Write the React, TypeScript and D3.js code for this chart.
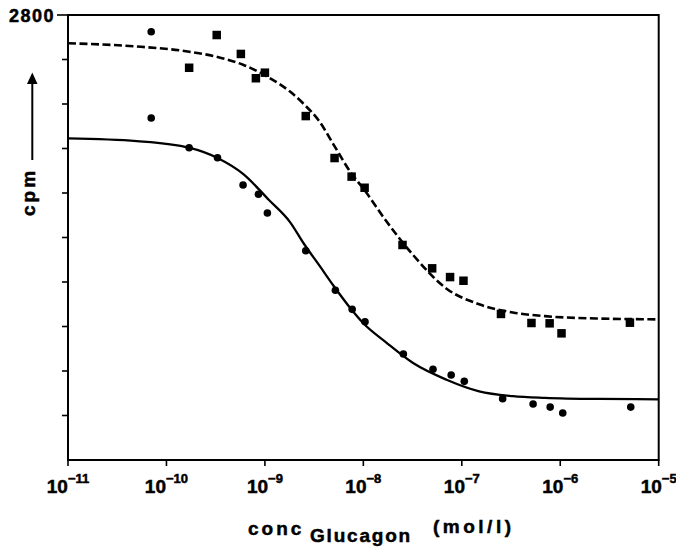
import React from "react";
import * as d3 from "d3";

// ---- data ----
const circleConc = [7e-11, 7e-11, 1.7e-10, 3.3e-10, 6e-10, 8.6e-10, 1.06e-9, 2.6e-9, 5.2e-9, 7.7e-9, 1.04e-8, 2.55e-8, 5.1e-8, 7.8e-8, 1.06e-7, 2.6e-7, 5.3e-7, 7.9e-7, 1.06e-6, 5.2e-6];
const circleCpm = [2695, 2152, 1965, 1902, 1730, 1672, 1554, 1317, 1068, 948, 870, 667, 571, 535, 495, 386, 352, 333, 296, 333];

const squareConc = [1.7e-10, 3.24e-10, 5.7e-10, 8.1e-10, 1.0e-9, 2.6e-9, 5.1e-9, 7.6e-9, 1.03e-8, 2.5e-8, 5e-8, 7.6e-8, 1.04e-7, 2.5e-7, 5.1e-7, 7.8e-7, 1.03e-6, 5.1e-6];
const squareCpm = [2468, 2674, 2555, 2402, 2437, 2164, 1900, 1783, 1713, 1353, 1206, 1151, 1128, 919, 862, 860, 797, 864];

const curveConc = [1e-11, 5e-11, 1.7e-10, 3.3e-10, 6e-10, 1.1e-9, 1.8e-9, 2.5e-9, 3.6e-9, 5e-9, 7.5e-9, 1e-8, 1.7e-8, 3.2e-8, 7e-8, 1.5e-7, 3.3e-7, 7e-7, 2.5e-6, 1e-5];
const solidCurveCpm = [2024, 2007, 1965, 1900, 1800, 1636, 1497, 1359, 1221, 1095, 950, 860, 740, 610, 505, 432, 402, 391, 384, 382];
const dashedCurveCpm = [2622, 2602, 2569, 2536, 2487, 2406, 2318, 2238, 2128, 1983, 1806, 1708, 1505, 1290, 1078, 980, 928, 905, 890, 885];

const xTickExponents = [-11, -10, -9, -8, -7, -6, -5];
const yTicks = [280, 560, 840, 1120, 1400, 1680, 1960, 2240, 2520, 2800];
const yTopLabel = "2800";

const FONT = "'Liberation Sans', Arial, Helvetica, sans-serif";

export default function App() {
  const left = 68, right = 658.7, top = 15, bottom = 460;
  const x = d3.scaleLog().domain([1e-11, 1e-5]).range([left, right]);
  const y = d3.scaleLinear().domain([0, 2800]).range([bottom, top]);

  const line = d3
    .line<number>()
    .x((_, i) => x(curveConc[i]))
    .y((d) => y(d))
    .curve(d3.curveMonotoneX);

  const sq = 8.5;
  const heavy = { stroke: "#000", strokeWidth: 0.5 };

  return (
    <svg
      width={676}
      height={550}
      style={{ position: "absolute", left: 0, top: 0, background: "#fff" }}
      fontFamily={FONT}
    >
      <rect x={0} y={0} width={676} height={550} fill="#fff" />
      {/* frame */}
      <rect x={left} y={top} width={right - left} height={bottom - top} fill="none" stroke="#000" strokeWidth={2} />

      {/* y ticks */}
      {yTicks.map((t) => (
        <line key={t} x1={t === 2800 ? left - 11 : left - 6} x2={left} y1={y(t)} y2={y(t)} stroke="#000" strokeWidth={1.6} />
      ))}
      <text x={55} y={22} textAnchor="end" fontSize={18} fontWeight="bold" letterSpacing={1.5} {...heavy}>
        {yTopLabel}
      </text>

      {/* x ticks */}
      {xTickExponents.map((e) => {
        const px = x(Math.pow(10, e));
        return (
          <g key={e}>
            <line x1={px} x2={px} y1={bottom} y2={bottom + 6} stroke="#000" strokeWidth={1.6} />
            <text x={px} y={493} textAnchor="middle" fontWeight="bold" fontSize={19} {...heavy}>
              10
              <tspan fontSize={13} dy={-10}>
                {"\u2212" + String(-e)}
              </tspan>
            </text>
          </g>
        );
      })}

      {/* curves */}
      <path d={line(solidCurveCpm) || ""} fill="none" stroke="#000" strokeWidth={2.3} />
      <path d={line(dashedCurveCpm) || ""} fill="none" stroke="#000" strokeWidth={2.6} strokeDasharray="8 3.5" />

      {/* markers */}
      {circleConc.map((c, i) => (
        <circle key={"c" + i} cx={x(c)} cy={y(circleCpm[i])} r={3.8} fill="#000" />
      ))}
      {squareConc.map((c, i) => (
        <rect key={"s" + i} x={x(c) - sq / 2} y={y(squareCpm[i]) - sq / 2} width={sq} height={sq} fill="#000" />
      ))}

      {/* y axis label with arrow */}
      <text
        transform="translate(35,192) rotate(-90)"
        textAnchor="middle"
        fontSize={19}
        fontWeight="bold"
        letterSpacing={3}
        {...heavy}
      >
        cpm
      </text>
      <line x1={32.3} x2={32.3} y1={160} y2={80} stroke="#000" strokeWidth={2} />
      <path d="M32.3,72.5 L37.5,84 L27,84 Z" fill="#000" />

      {/* x axis title */}
      <text x={248} y={535} fontSize={19} fontWeight="bold" letterSpacing={3} {...heavy}>
        conc
      </text>
      <text x={310} y={542} fontSize={19} fontWeight="bold" letterSpacing={1.8} {...heavy}>
        Glucagon
      </text>
      <text x={433} y={533} fontSize={19} fontWeight="bold" letterSpacing={3.5} {...heavy}>
        (mol/l)
      </text>
    </svg>
  );
}
